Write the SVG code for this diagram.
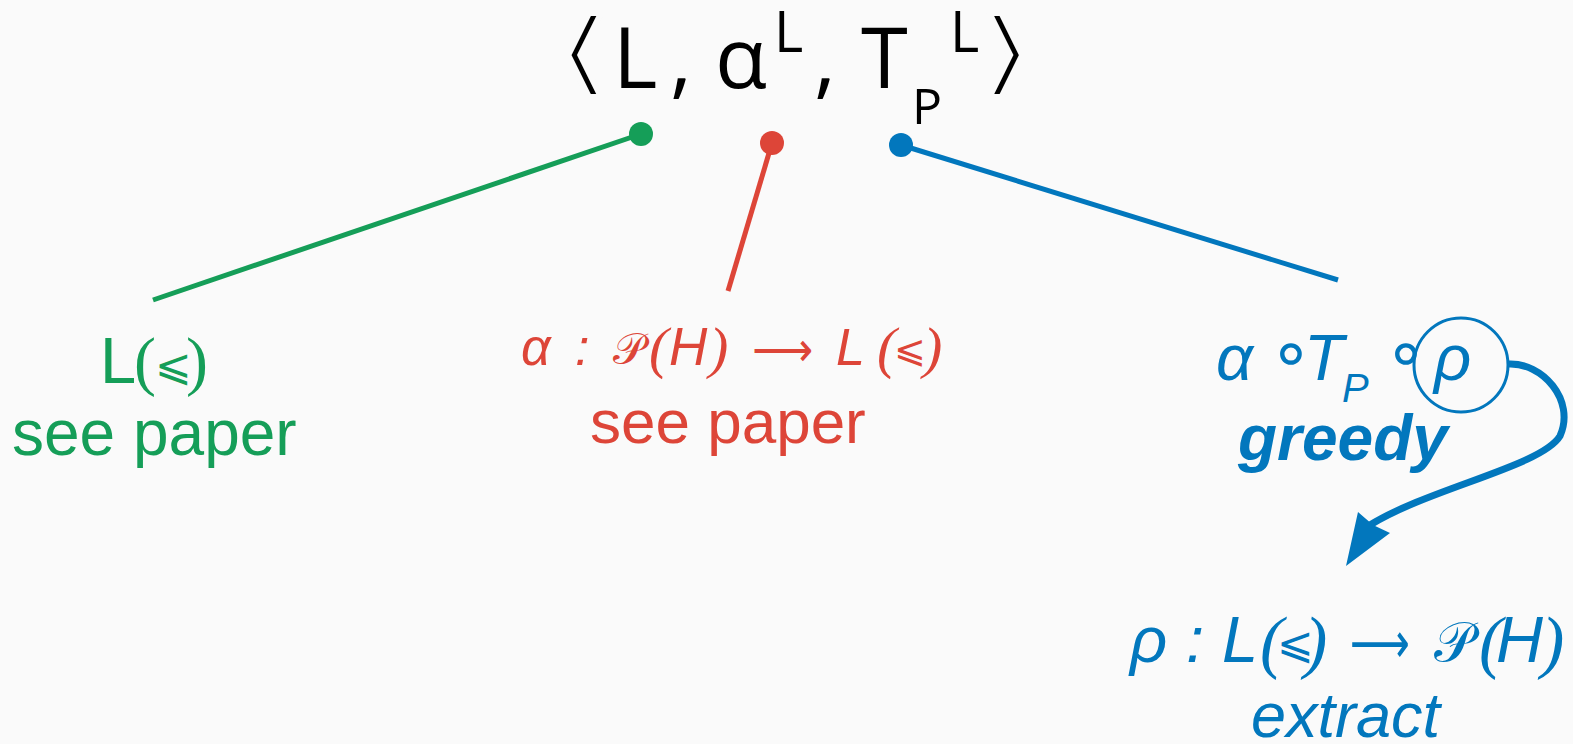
<svg xmlns="http://www.w3.org/2000/svg" width="1573" height="744" viewBox="0 0 1573 744">
<style>
.t{font-family:"Open Sans",sans-serif;fill:#000}
.s{font-family:"Liberation Sans",Arial,sans-serif}
.i{font-family:"Liberation Sans",Arial,sans-serif;font-style:italic}
.m{font-family:"DejaVu Sans",sans-serif}
.br{font-family:"DejaVu Sans",sans-serif;stroke:#fafafa;stroke-width:4}
.ms{font-family:"Liberation Serif",serif}
.pi{font-family:"Liberation Serif",serif;font-style:italic}
.g{fill:#159e58}.r{fill:#dd4538}.b{fill:#0277bd}
</style>
<rect width="1573" height="744" fill="#fafafa"/>
<g id="title" class="t">
<text transform="translate(555,84) scale(1.6,1)" font-size="92" class="br">⟨</text>
<text x="613" y="88" font-size="85">L</text>
<text x="670" y="88" font-size="85">,</text>
<text x="715" y="88" font-size="85">α</text>
<text x="774" y="52" font-size="56">L</text>
<text x="814" y="88" font-size="85">,</text>
<text x="861" y="88" font-size="85">T</text>
<text x="912" y="124" font-size="50">P</text>
<text x="950" y="52" font-size="56">L</text>
<text transform="translate(978,84) scale(1.6,1)" font-size="92" class="br">⟩</text>
</g>
<g id="connectors">
<line x1="153" y1="300" x2="641" y2="134" stroke="#159e58" stroke-width="5"/>
<circle cx="641" cy="134" r="12" fill="#159e58"/>
<line x1="728" y1="291" x2="772" y2="143" stroke="#dd4538" stroke-width="5"/>
<circle cx="772" cy="143" r="12" fill="#dd4538"/>
<line x1="901" y1="145" x2="1338" y2="280" stroke="#0277bd" stroke-width="5"/>
<circle cx="901" cy="145" r="12" fill="#0277bd"/>
<path d="M1508,364 C1542,362 1576,400 1560,436 C1542,466 1430,488 1370,525" fill="none" stroke="#0277bd" stroke-width="7"/>
<polygon points="1346,566 1358,512 1373,525 1390,533" fill="#0277bd"/>
</g>
<g id="node-L" class="g">
<text x="100" y="383" font-size="65" class="s">L</text>
<text x="134" y="383" font-size="66" class="ms">(</text>
<text x="155" y="380" font-size="44" class="m">⩽</text>
<text x="186" y="383" font-size="66" class="ms">)</text>
<text x="12" y="455" font-size="64" class="s">see paper</text>
</g>
<g id="node-alpha" class="r">
<text x="521" y="365" font-size="52" class="i">α</text>
<text x="575" y="365" font-size="52" class="i">:</text>
<text x="613" y="364" font-size="44" class="ms">𝒫</text>
<text x="649" y="367" font-size="58" class="pi">(</text>
<text x="669" y="365" font-size="53" class="i">H</text>
<text x="709" y="367" font-size="58" class="pi">)</text>
<text x="752" y="366" font-size="48" class="m" textLength="61" lengthAdjust="spacingAndGlyphs">⟶</text>
<text x="836" y="365" font-size="52" class="i">L</text>
<text x="877" y="367" font-size="58" class="pi">(</text>
<text x="894" y="362" font-size="38" class="m">⩽</text>
<text x="923" y="367" font-size="58" class="pi">)</text>
<text x="590" y="443" font-size="62" class="s">see paper</text>
</g>
<g id="node-greedy" class="b">
<text x="1216" y="380" font-size="65" class="i">α</text>
<text x="1269" y="376" font-size="70" class="m">∘</text>
<text x="1304" y="380" font-size="65" class="i">T</text>
<text x="1342" y="402" font-size="40" class="i">P</text>
<text x="1384" y="376" font-size="70" class="m">∘</text>
<text x="1434" y="380" font-size="65" class="i">ρ</text>
<circle cx="1461" cy="365" r="47" fill="none" stroke="#0277bd" stroke-width="3"/>
<text x="1238" y="460" font-size="64" class="i" font-weight="bold">greedy</text>
</g>
<g id="node-rho" class="b">
<text x="1130" y="662" font-size="65" class="i">ρ</text>
<text x="1186" y="662" font-size="65" class="i">:</text>
<text x="1222" y="662" font-size="65" class="i">L</text>
<text x="1260" y="665" font-size="70" class="pi">(</text>
<text x="1277" y="658" font-size="44" class="m">⩽</text>
<text x="1304" y="665" font-size="70" class="pi">)</text>
<text x="1350" y="663" font-size="58" class="m" textLength="60" lengthAdjust="spacingAndGlyphs">⟶</text>
<text x="1434" y="661" font-size="55" class="ms">𝒫</text>
<text x="1479" y="665" font-size="70" class="pi">(</text>
<text x="1496" y="662" font-size="65" class="i">H</text>
<text x="1541" y="665" font-size="70" class="pi">)</text>
<text x="1251" y="737" font-size="63" class="i">extract</text>
</g>
</svg>
